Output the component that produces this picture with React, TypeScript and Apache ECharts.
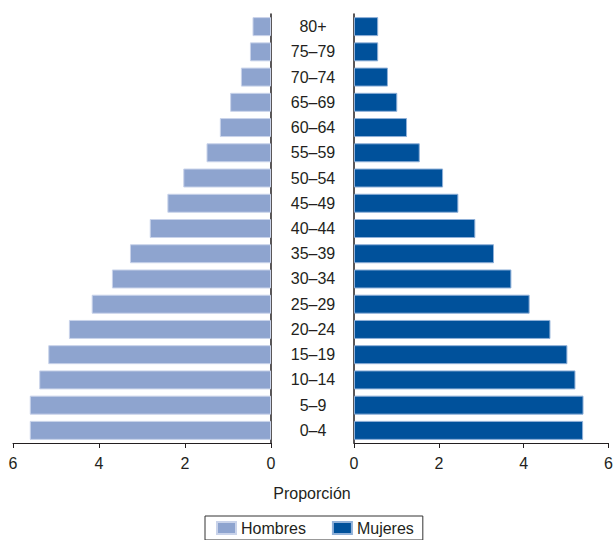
import React, { useEffect, useRef } from "react";
import * as echarts from "echarts";

const categories = ["0–4", "5–9", "10–14", "15–19", "20–24", "25–29", "30–34", "35–39", "40–44", "45–49", "50–54", "55–59", "60–64", "65–69", "70–74", "75–79", "80+"];
const hombres = [5.61, 5.61, 5.39, 5.18, 4.7, 4.17, 3.7, 3.28, 2.82, 2.41, 2.04, 1.5, 1.19, 0.95, 0.7, 0.49, 0.43];
const mujeres = [5.4, 5.41, 5.22, 5.03, 4.63, 4.14, 3.71, 3.3, 2.86, 2.46, 2.1, 1.55, 1.25, 1.02, 0.8, 0.57, 0.57];
const xTicks = { min: 0, max: 6, interval: 2 };

const FONT = "'Liberation Sans', Arial, sans-serif";
const TXT = "#231f20";

export default function App() {
  const ref = useRef<HTMLDivElement>(null);
  useEffect(() => {
    const chart = echarts.init(ref.current!, null, { renderer: "svg" });
    const xAxisCommon = {
      type: "value",
      min: xTicks.min,
      max: xTicks.max,
      interval: xTicks.interval,
      axisLine: { show: true, lineStyle: { color: TXT, width: 1 } },
      axisTick: { show: true, length: 5, lineStyle: { color: TXT } },
      axisLabel: { color: TXT, fontSize: 16, fontFamily: FONT, margin: 12 },
      splitLine: { show: false },
    };
    chart.setOption({
      animation: false,
      textStyle: { fontFamily: FONT },
      grid: [
        { left: 13, right: 345, top: 14, bottom: 97, containLabel: false },
        { left: 354, right: 4, top: 14, bottom: 97, containLabel: false },
      ],
      xAxis: [
        { ...xAxisCommon, gridIndex: 0, inverse: true },
        { ...xAxisCommon, gridIndex: 1 },
      ],
      yAxis: [
        {
          type: "category",
          gridIndex: 0,
          data: categories,
          position: "right",
          axisLine: { show: true, lineStyle: { color: TXT, width: 1.5 } },
          axisTick: { show: false },
          axisLabel: { show: false },
        },
        {
          type: "category",
          gridIndex: 1,
          data: categories,
          position: "left",
          axisLine: { show: true, lineStyle: { color: TXT, width: 1.5 } },
          axisTick: { show: false },
          axisLabel: { show: true, color: TXT, fontSize: 16, fontFamily: FONT, margin: 41, align: "center" },
        },
      ],
      legend: {
        left: 205,
        top: 516,
        data: ["Hombres", "Mujeres"],
        icon: "rect",
        itemWidth: 19,
        itemHeight: 12,
        itemGap: 26,
        padding: [4, 9, 4, 11],
        borderColor: "#333",
        borderWidth: 1,
        borderRadius: 0,
        textStyle: { color: TXT, fontSize: 16, fontFamily: FONT },
      },
      graphic: [
        {
          type: "text",
          x: 312,
          y: 485,
          style: { text: "Proporción", fill: TXT, fontSize: 16, fontFamily: FONT, align: "center", verticalAlign: "top" },
        },
      ],
      series: [
        {
          name: "Hombres",
          type: "bar",
          xAxisIndex: 0,
          yAxisIndex: 0,
          data: hombres,
          barWidth: 19,
          itemStyle: { color: "#8ea4cf", borderColor: "#c9d3ea", borderWidth: 1 },
        },
        {
          name: "Mujeres",
          type: "bar",
          xAxisIndex: 1,
          yAxisIndex: 1,
          data: mujeres,
          barWidth: 19,
          itemStyle: { color: "#00519b", borderColor: "#8fb0d8", borderWidth: 1 },
        },
      ],
    });
    return () => chart.dispose();
  }, []);
  return <div ref={ref} style={{ width: 616, height: 540, position: "absolute", left: 0, top: 0 }} />;
}
